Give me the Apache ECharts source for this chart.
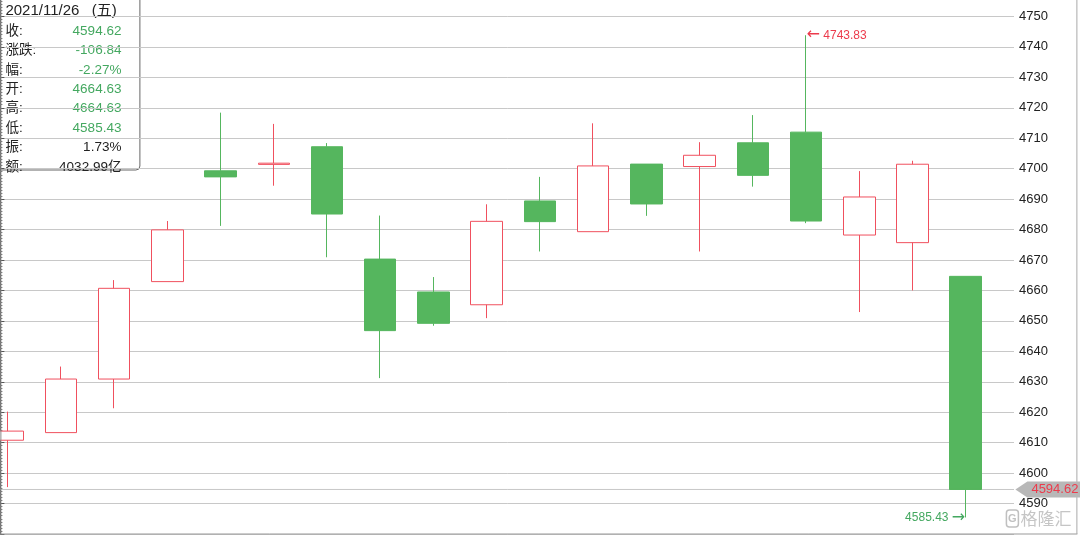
<!DOCTYPE html>
<html><head><meta charset="utf-8">
<script src="https://cdn.jsdelivr.net/npm/echarts@6/dist/echarts.min.js"></script>
<style>html,body{margin:0;padding:0;background:#fff;overflow:hidden}
#wrap{position:relative;width:1080px;height:537px;overflow:hidden}
#c{position:absolute;left:-19.4px;top:-14px;width:1099.4px;height:551px}</style>
</head><body><div id="wrap"><div id="c"></div></div>
<script>
// ---- data ----
const dates = ['2021/11/02','2021/11/03','2021/11/04','2021/11/05','2021/11/08','2021/11/09','2021/11/10','2021/11/11','2021/11/12','2021/11/15','2021/11/16','2021/11/17','2021/11/18','2021/11/19','2021/11/22','2021/11/23','2021/11/24','2021/11/25','2021/11/26'];
const opens  = [4610.8,4613.3,4630.9,4662.9,4699.3,4701.4,4707.2,4670.3,4659.5,4655.3,4689.4,4679.3,4701.5,4700.7,4708.5,4712.0,4678.2,4675.7,4664.63];
const closes = [4613.8,4630.9,4660.7,4679.9,4697.3,4701.8,4685.1,4646.8,4649.2,4682.7,4682.6,4700.9,4688.4,4704.4,4697.8,4682.8,4690.7,4701.46,4594.62];
const lows   = [4595.4,4613.3,4621.3,4662.9,4681.2,4694.4,4670.9,4631.2,4648.4,4650.9,4672.8,4679.3,4684.5,4672.8,4694.1,4682.1,4652.9,4660.0,4585.43];
const highs  = [4620.2,4635.0,4663.4,4682.8,4718.4,4714.7,4708.4,4684.6,4664.4,4688.3,4697.3,4714.9,4701.5,4708.7,4717.6,4743.83,4699.2,4702.6,4664.63];
const yMin = 4580, yMax = 4760, yStep = 10;
const tipDate = '2021/11/26\u00a0\u00a0\u00a0(五)';
const tipLabels = ['收:','涨跌:','幅:','开:','高:','低:','振:','额:'];
const tipValues = ['4594.62','-106.84','-2.27%','4664.63','4664.63','4585.43','1.73%','4032.99亿'];
const tipGreen  = [true,true,true,true,true,true,false,false];

// ---- styles / layout ----
const OX = 19.4, OY = 14;   // container offset (page = container - offset)
const RED = '#f0505e', RED_T = '#ec3b4c', GREEN = '#55b65e', GREEN_T = '#44a860';
const FONT = 'Helvetica, Arial, "Liberation Sans", "Noto Sans CJK SC", sans-serif';

const kData = opens.map((o, i) => [o, closes[i], lows[i], highs[i]]);
let hiIdx = 0, loIdx = 0;
highs.forEach((h, i) => { if (h > highs[hiIdx]) hiIdx = i; });
lows.forEach((l, i) => { if (l < lows[loIdx]) loIdx = i; });
const lastClose = closes[closes.length - 1];

const chart = echarts.init(document.getElementById('c'), null, {renderer: 'canvas'});

const tipChildren = [
  {type: 'rect', shape: {x: 0, y: -2, width: 139.5, height: 172, r: [0,0,4,0]},
   style: {fill: 'rgba(255,255,255,0.88)', stroke: '#666', lineWidth: 1}},
  {type: 'text', x: 5, y: 11, style: {text: tipDate, font: '15px ' + FONT, fill: '#222', verticalAlign: 'middle'}}
];
tipLabels.forEach((lab, i) => {
  const y = 31 + i * 19.4;
  tipChildren.push({type: 'text', x: 5, y: y, style: {text: lab, font: '13.5px ' + FONT, fill: '#222', verticalAlign: 'middle'}});
  tipChildren.push({type: 'text', x: 121, y: y, style: {text: tipValues[i], font: '13.5px ' + FONT, fill: tipGreen[i] ? GREEN_T : '#222', align: 'right', verticalAlign: 'middle'}});
});

const arrowRich = {a: {fontFamily: '"DejaVu Sans"', fontSize: 16}};

const option = {
  animation: false,
  backgroundColor: '#fff',
  grid: [
    {left: OX - 19.4, right: 87.65, top: OY - 14, bottom: 3},
    {left: OX, right: 66, top: OY - 14, bottom: 3}
  ],
  xAxis: [
    {type: 'category', data: dates, gridIndex: 0, show: false, boundaryGap: true},
    {type: 'value', gridIndex: 1, min: 0, max: 1, show: false}
  ],
  yAxis: [
    {type: 'value', gridIndex: 0, min: yMin, max: yMax, interval: yStep, show: false},
    {type: 'value', gridIndex: 1, position: 'right', min: yMin, max: yMax, interval: yStep,
     axisLine: {show: true, lineStyle: {color: '#555', width: 1}},
     axisTick: {show: true, length: 4, lineStyle: {color: '#555'}},
     minorTick: {show: true, splitNumber: 10, length: 2, lineStyle: {color: '#777'}},
     axisLabel: {show: true, color: '#222', fontSize: 13, fontFamily: FONT, margin: 5,
                 showMinLabel: false, showMaxLabel: false, formatter: v => String(v)},
     splitLine: {show: true, lineStyle: {color: '#c8c8c8', width: 1}}}
  ],
  series: [
    {type: 'line', xAxisIndex: 1, yAxisIndex: 1, data: [[0, lastClose], [1, lastClose]],
     symbol: 'none', silent: true, lineStyle: {color: '#c8c8c8', width: 1}, z: 1},
    {type: 'candlestick', xAxisIndex: 0, yAxisIndex: 0, data: kData, barWidth: 32,
     itemStyle: {color: '#ffffff', color0: GREEN, borderColor: RED, borderColor0: GREEN, borderWidth: 1},
     z: 3,
     markPoint: {
       symbol: 'circle', symbolSize: 1, itemStyle: {color: 'rgba(0,0,0,0)'},
       data: [
         {coord: [hiIdx, highs[hiIdx]], value: highs[hiIdx],
          label: {show: true, position: 'right', distance: 0, formatter: '{a|←} ' + highs[hiIdx].toFixed(2),
                  color: RED_T, fontSize: 12, fontFamily: FONT, rich: arrowRich}},
         {coord: [loIdx, lows[loIdx]], value: lows[loIdx],
          label: {show: true, position: 'left', distance: 0, formatter: lows[loIdx].toFixed(2) + ' {a|→}',
                  color: GREEN_T, fontSize: 12, fontFamily: FONT, rich: arrowRich}}
       ]
     }}
  ],
  graphic: []
};
chart.setOption(option);

const py = chart.convertToPixel({yAxisIndex: 1}, lastClose) - OY;
chart.setOption({graphic: [{type: 'group', x: OX, y: OY, children: [
  {type: 'line', shape: {x1: 0.5, y1: 0, x2: 0.5, y2: 534}, style: {stroke: '#888', lineWidth: 1}, z: 10},
  {type: 'line', shape: {x1: 0, y1: 534, x2: 1077, y2: 534}, style: {stroke: '#999', lineWidth: 1}, z: 10},
  {type: 'line', shape: {x1: 1076.5, y1: 0, x2: 1076.5, y2: 534}, style: {stroke: '#aaa', lineWidth: 1}, z: 10},
  {type: 'polygon', shape: {points: [[1015, py], [1027, py - 8], [1080, py - 8], [1080, py + 8], [1027, py + 8]]},
   style: {fill: '#b8b8b8'}, z: 20},
  {type: 'text', x: 1078, y: py, style: {text: lastClose.toFixed(2), font: '13px ' + FONT, fill: RED_T, align: 'right', verticalAlign: 'middle'}, z: 21},
  {type: 'rect', shape: {x: 1006, y: 510, width: 12, height: 17, r: 3}, style: {fill: 'none', stroke: 'rgba(150,150,150,0.6)', lineWidth: 1.5}, z: 22},
  {type: 'text', x: 1012, y: 519, style: {text: 'G', font: 'bold 11px ' + FONT, fill: 'rgba(150,150,150,0.6)', align: 'center', verticalAlign: 'middle'}, z: 22},
  {type: 'text', x: 1020, y: 519, style: {text: '格隆汇', font: '17px "Noto Sans CJK SC", sans-serif', fill: 'rgba(150,150,150,0.55)', verticalAlign: 'middle'}, z: 22},
  {type: 'group', children: tipChildren, z: 30}
]}]});
</script>
</body></html>
